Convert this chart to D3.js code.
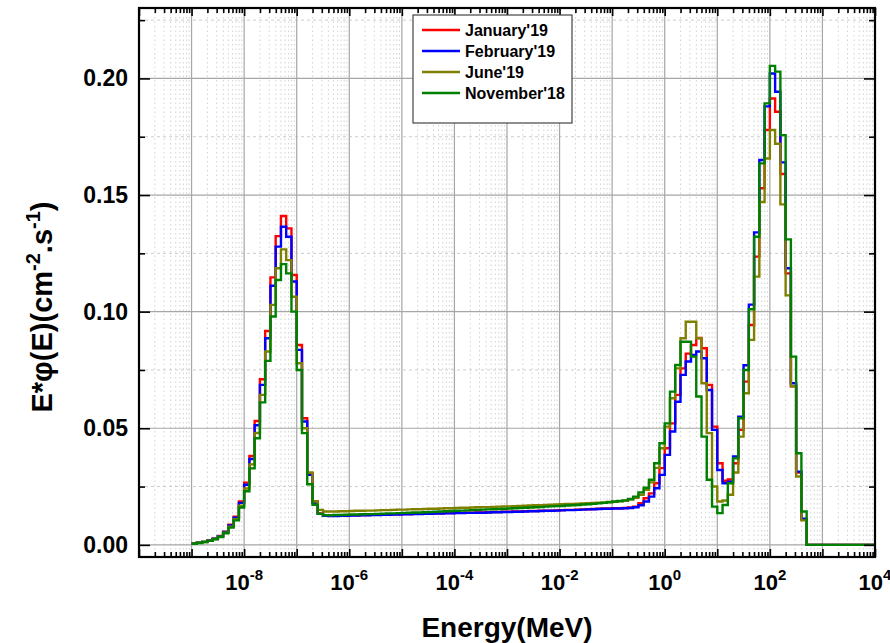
<!DOCTYPE html>
<html>
<head>
<meta charset="utf-8">
<script src="https://cdn.jsdelivr.net/npm/d3@7"></script>
<style>
  body { margin: 0; background: #fff; }
  svg { font-family: Arial, "Liberation Sans", sans-serif; }
</style>
</head>
<body>
<svg id="chart" width="890" height="643"></svg>
<script>
// Series
const seriesNames = ["January'19", "February'19", "June'19", "November'18"];
const seriesColors = ["#ff0000", "#0000ff", "#808000", "#008000"];

// Bins: lower edge log10(E) from -9.0, 0.1 decade wide, 130 bins up to 1e4 MeV
const binStartLog = -9.0;
const binStepLog = 0.1;

const jan19 = [
  // thermal peak (-9.0 .. -6.5)
  0.0006, 0.0009, 0.0013, 0.0019, 0.0027, 0.0038, 0.0057, 0.0086, 0.0121, 0.0186,
  0.0267, 0.0381, 0.0531, 0.0710, 0.0917, 0.1147, 0.1324, 0.1410, 0.1357, 0.1157,
  0.0857, 0.0543, 0.0307, 0.0186, 0.0135, 0.0126,
  // epithermal plateau (-6.4 .. -1.1)
  0.0125, 0.0125, 0.0126, 0.0126, 0.0127, 0.0127, 0.0128, 0.0128, 0.0129, 0.0129,
  0.0130, 0.0130, 0.0131, 0.0131, 0.0132, 0.0132, 0.0133, 0.0133, 0.0134, 0.0134,
  0.0135, 0.0135, 0.0136, 0.0136, 0.0137, 0.0137, 0.0138, 0.0138, 0.0139, 0.0139,
  0.0140, 0.0141, 0.0141, 0.0142, 0.0142, 0.0143, 0.0143, 0.0144, 0.0145, 0.0145,
  0.0146, 0.0147, 0.0147, 0.0148, 0.0149, 0.0150, 0.0150, 0.0151, 0.0152, 0.0153,
  0.0154, 0.0155, 0.0156, 0.0156,
  // fast + high energy peaks (-1.0 .. 2.6)
  0.0157, 0.0157, 0.0158, 0.0160, 0.0164, 0.0179, 0.0200, 0.0221, 0.0264, 0.0329,
  0.0414, 0.0521, 0.0643, 0.0757, 0.0820, 0.0857, 0.0887, 0.0843, 0.0686, 0.0507,
  0.0350, 0.0275, 0.0280, 0.0350, 0.0493, 0.0700, 0.0943, 0.1236, 0.1529, 0.1779,
  0.1914, 0.1857, 0.1590, 0.1164, 0.0680, 0.0310, 0.0110,
  // above 500 MeV (2.7 .. 3.9)
  0, 0, 0, 0, 0, 0, 0, 0, 0, 0, 0, 0, 0
];

const feb19 = [
  0.0006, 0.0009, 0.0013, 0.0019, 0.0026, 0.0037, 0.0055, 0.0083, 0.0117, 0.0180,
  0.0258, 0.0368, 0.0513, 0.0686, 0.0886, 0.1111, 0.1279, 0.1364, 0.1321, 0.1129,
  0.0836, 0.0529, 0.0300, 0.0180, 0.0133, 0.0125,
  0.0124, 0.0124, 0.0125, 0.0125, 0.0126, 0.0126, 0.0127, 0.0127, 0.0128, 0.0128,
  0.0129, 0.0129, 0.0130, 0.0130, 0.0131, 0.0131, 0.0132, 0.0132, 0.0133, 0.0133,
  0.0134, 0.0134, 0.0135, 0.0135, 0.0136, 0.0136, 0.0137, 0.0137, 0.0138, 0.0138,
  0.0139, 0.0140, 0.0140, 0.0141, 0.0141, 0.0142, 0.0142, 0.0143, 0.0144, 0.0144,
  0.0145, 0.0146, 0.0146, 0.0147, 0.0148, 0.0149, 0.0149, 0.0150, 0.0151, 0.0152,
  0.0153, 0.0154, 0.0155, 0.0155,
  0.0156, 0.0156, 0.0157, 0.0158, 0.0161, 0.0170, 0.0186, 0.0207, 0.0243, 0.0300,
  0.0386, 0.0486, 0.0614, 0.0729, 0.0786, 0.0814, 0.0829, 0.0800, 0.0664, 0.0493,
  0.0321, 0.0264, 0.0271, 0.0379, 0.0550, 0.0770, 0.1030, 0.1340, 0.1650, 0.1880,
  0.2021, 0.1943, 0.1640, 0.1186, 0.0693, 0.0314, 0.0112,
  0, 0, 0, 0, 0, 0, 0, 0, 0, 0, 0, 0, 0
];

const jun19 = [
  0.0006, 0.0009, 0.0012, 0.0018, 0.0025, 0.0035, 0.0052, 0.0078, 0.0110, 0.0168,
  0.0242, 0.0345, 0.0480, 0.0643, 0.0829, 0.1029, 0.1186, 0.1267, 0.1221, 0.1064,
  0.0779, 0.0500, 0.0310, 0.0186, 0.0150, 0.0143,
  0.0143, 0.0143, 0.0144, 0.0144, 0.0145, 0.0146, 0.0146, 0.0147, 0.0147, 0.0148,
  0.0149, 0.0149, 0.0150, 0.0151, 0.0151, 0.0152, 0.0153, 0.0153, 0.0154, 0.0155,
  0.0155, 0.0156, 0.0157, 0.0157, 0.0158, 0.0159, 0.0159, 0.0160, 0.0161, 0.0162,
  0.0162, 0.0163, 0.0164, 0.0165, 0.0165, 0.0166, 0.0167, 0.0168, 0.0169, 0.0170,
  0.0170, 0.0171, 0.0172, 0.0173, 0.0174, 0.0175, 0.0176, 0.0177, 0.0178, 0.0179,
  0.0180, 0.0181, 0.0182, 0.0184,
  0.0185, 0.0187, 0.0189, 0.0194, 0.0202, 0.0215, 0.0236, 0.0268, 0.0330, 0.0414,
  0.0507, 0.0629, 0.0757, 0.0886, 0.0957, 0.0957, 0.0886, 0.0693, 0.0479, 0.0250,
  0.0186, 0.0190, 0.0215, 0.0310, 0.0464, 0.0650, 0.0879, 0.1150, 0.1470, 0.1657,
  0.1779, 0.1720, 0.1460, 0.1070, 0.0680, 0.0293, 0.0105,
  0, 0, 0, 0, 0, 0, 0, 0, 0, 0, 0, 0, 0
];

const nov18 = [
  0.0005, 0.0008, 0.0012, 0.0017, 0.0024, 0.0034, 0.0050, 0.0074, 0.0105, 0.0160,
  0.0230, 0.0328, 0.0457, 0.0611, 0.0789, 0.0979, 0.1136, 0.1204, 0.1164, 0.1000,
  0.0750, 0.0479, 0.0260, 0.0172, 0.0133, 0.0127,
  0.0127, 0.0128, 0.0128, 0.0129, 0.0130, 0.0130, 0.0131, 0.0132, 0.0132, 0.0133,
  0.0134, 0.0135, 0.0135, 0.0136, 0.0137, 0.0138, 0.0139, 0.0139, 0.0140, 0.0141,
  0.0142, 0.0143, 0.0144, 0.0145, 0.0146, 0.0147, 0.0148, 0.0149, 0.0150, 0.0151,
  0.0152, 0.0153, 0.0154, 0.0155, 0.0156, 0.0157, 0.0158, 0.0159, 0.0160, 0.0161,
  0.0162, 0.0164, 0.0165, 0.0166, 0.0167, 0.0169, 0.0170, 0.0171, 0.0173, 0.0174,
  0.0176, 0.0178, 0.0180, 0.0183,
  0.0186, 0.0188, 0.0191, 0.0197, 0.0207, 0.0225, 0.0245, 0.0279, 0.0350, 0.0436,
  0.0521, 0.0657, 0.0771, 0.0871, 0.0871, 0.0807, 0.0636, 0.0464, 0.0279, 0.0164,
  0.0136, 0.0171, 0.0264, 0.0371, 0.0543, 0.0750, 0.1010, 0.1321, 0.1636, 0.1893,
  0.2054, 0.2029, 0.1757, 0.1310, 0.0807, 0.0393, 0.0143,
  0, 0, 0, 0, 0, 0, 0, 0, 0, 0, 0, 0, 0
];

const seriesValues = [jan19, feb19, jun19, nov18];

// Axis ticks
const xMajorExps = d3.range(-10, 5);          // 1e-10 .. 1e4
const xLabelExps = [-8, -6, -4, -2, 0, 2, 4];
const yMajorTicks = [0, 0.05, 0.10, 0.15, 0.20];
const yMinorTicks = [0.025, 0.075, 0.125, 0.175, 0.225];

const width = 890, height = 643;
const plot = { left: 139, right: 875, top: 8, bottom: 557 };

const x = d3.scaleLog().domain([1e-10, 1e4]).range([plot.left, plot.right]);
const y = d3.scaleLinear().domain([-0.0052, 0.2302]).range([plot.bottom, plot.top]);

const xMinorTicks = [];
xMajorExps.slice(0, -1).forEach(e => {
  for (let m = 2; m <= 9; m++) xMinorTicks.push(m * Math.pow(10, e));
});
const xMajorTicks = xMajorExps.map(e => Math.pow(10, e));

const svg = d3.select("#chart");

// Grid
const grid = svg.append("g");
grid.selectAll(".vminor").data(xMinorTicks).enter().append("line")
  .attr("x1", d => x(d)).attr("x2", d => x(d))
  .attr("y1", plot.top).attr("y2", plot.bottom)
  .attr("stroke", "#d2d2d2").attr("stroke-width", 1).attr("stroke-dasharray", "1.5,3");
grid.selectAll(".hminor").data(yMinorTicks).enter().append("line")
  .attr("x1", plot.left).attr("x2", plot.right)
  .attr("y1", d => y(d)).attr("y2", d => y(d))
  .attr("stroke", "#cccccc").attr("stroke-width", 1).attr("stroke-dasharray", "3,3");
grid.selectAll(".vmajor").data(xMajorTicks).enter().append("line")
  .attr("x1", d => x(d)).attr("x2", d => x(d))
  .attr("y1", plot.top).attr("y2", plot.bottom)
  .attr("stroke", "#a6a6a6").attr("stroke-width", 1.2);
grid.selectAll(".hmajor").data(yMajorTicks).enter().append("line")
  .attr("x1", plot.left).attr("x2", plot.right)
  .attr("y1", d => y(d)).attr("y2", d => y(d))
  .attr("stroke", "#a6a6a6").attr("stroke-width", 1.2);

// Step lines
svg.append("clipPath").attr("id", "clip").append("rect")
  .attr("x", plot.left).attr("y", plot.top)
  .attr("width", plot.right - plot.left).attr("height", plot.bottom - plot.top);

const stepLine = d3.line()
  .x(d => x(d[0]))
  .y(d => y(d[1]))
  .curve(d3.curveStepAfter);

function stepPoints(values) {
  const pts = values.map((v, i) => [Math.pow(10, binStartLog + i * binStepLog), v]);
  pts.push([Math.pow(10, binStartLog + values.length * binStepLog), values[values.length - 1]]);
  return pts;
}

svg.append("g").attr("clip-path", "url(#clip)")
  .selectAll("path").data(seriesValues).enter().append("path")
  .attr("d", d => stepLine(stepPoints(d)))
  .attr("fill", "none")
  .attr("stroke", (d, i) => seriesColors[i])
  .attr("stroke-width", 2.4)
  .attr("stroke-linejoin", "miter");

// Axes (ticks inward, mirrored on top/right)
function styleAxis(g) {
  g.select(".domain").remove();
  g.selectAll(".tick line").attr("stroke", "#000").attr("stroke-width", 1.6);
  g.selectAll(".tick text").remove();
}

svg.append("g").attr("transform", `translate(0,${plot.bottom})`)
  .call(d3.axisBottom(x).tickValues(xMajorTicks).tickSize(-8).tickFormat("")).call(styleAxis);
svg.append("g").attr("transform", `translate(0,${plot.bottom})`)
  .call(d3.axisBottom(x).tickValues(xMinorTicks).tickSize(-5).tickFormat("")).call(styleAxis);
svg.append("g").attr("transform", `translate(0,${plot.top})`)
  .call(d3.axisTop(x).tickValues(xMajorTicks).tickSize(-8).tickFormat("")).call(styleAxis);
svg.append("g").attr("transform", `translate(0,${plot.top})`)
  .call(d3.axisTop(x).tickValues(xMinorTicks).tickSize(-5).tickFormat("")).call(styleAxis);

svg.append("g").attr("transform", `translate(${plot.left},0)`)
  .call(d3.axisLeft(y).tickValues(yMajorTicks).tickSize(-11).tickFormat("")).call(styleAxis);
svg.append("g").attr("transform", `translate(${plot.left},0)`)
  .call(d3.axisLeft(y).tickValues(yMinorTicks).tickSize(-6).tickFormat("")).call(styleAxis);
svg.append("g").attr("transform", `translate(${plot.right},0)`)
  .call(d3.axisRight(y).tickValues(yMajorTicks).tickSize(-11).tickFormat("")).call(styleAxis);
svg.append("g").attr("transform", `translate(${plot.right},0)`)
  .call(d3.axisRight(y).tickValues(yMinorTicks).tickSize(-6).tickFormat("")).call(styleAxis);

// Frame
svg.append("rect")
  .attr("x", plot.left).attr("y", plot.top)
  .attr("width", plot.right - plot.left).attr("height", plot.bottom - plot.top)
  .attr("fill", "none").attr("stroke", "#000").attr("stroke-width", 2.2);

// Tick labels
const xLabels = svg.append("g").selectAll("text").data(xLabelExps).enter().append("text")
  .attr("x", d => x(Math.pow(10, d)))
  .attr("y", 590)
  .attr("text-anchor", "middle")
  .attr("font-size", 22)
  .attr("font-weight", "bold");
xLabels.append("tspan").text("10");
xLabels.append("tspan").attr("dy", -10).attr("font-size", 15).text(d => d);

svg.append("g").selectAll("text").data(yMajorTicks).enter().append("text")
  .attr("x", 128)
  .attr("y", d => y(d) + 8)
  .attr("text-anchor", "end")
  .attr("font-size", 23)
  .attr("font-weight", "bold")
  .text(d => d3.format(".2f")(d));

// Axis titles
svg.append("text")
  .attr("x", (plot.left + plot.right) / 2)
  .attr("y", 637)
  .attr("text-anchor", "middle")
  .attr("font-size", 28)
  .attr("font-weight", "bold")
  .text("Energy(MeV)");

const yTitle = svg.append("text")
  .attr("transform", "translate(52,307) rotate(-90)")
  .attr("text-anchor", "middle")
  .attr("font-size", 29)
  .attr("font-weight", "bold");
yTitle.append("tspan").text("E*φ(E)(cm");
yTitle.append("tspan").attr("dy", -12).attr("font-size", 20).text("-2");
yTitle.append("tspan").attr("dy", 12).text(".s");
yTitle.append("tspan").attr("dy", -12).attr("font-size", 20).text("-1");
yTitle.append("tspan").attr("dy", 12).text(")");

// Legend
const legend = svg.append("g");
legend.append("rect")
  .attr("x", 413).attr("y", 15).attr("width", 159).attr("height", 108)
  .attr("fill", "#fff").attr("stroke", "#444").attr("stroke-width", 1.2);
const rows = legend.selectAll(".row").data(seriesNames).enter().append("g")
  .attr("transform", (d, i) => `translate(0,${30 + i * 21})`);
rows.append("line")
  .attr("x1", 422).attr("x2", 460).attr("y1", 0).attr("y2", 0)
  .attr("stroke", (d, i) => seriesColors[i]).attr("stroke-width", 2.4);
rows.append("text")
  .attr("x", 465).attr("y", 6)
  .attr("font-size", 16).attr("font-weight", "bold")
  .text(d => d);
</script>
</body>
</html>
